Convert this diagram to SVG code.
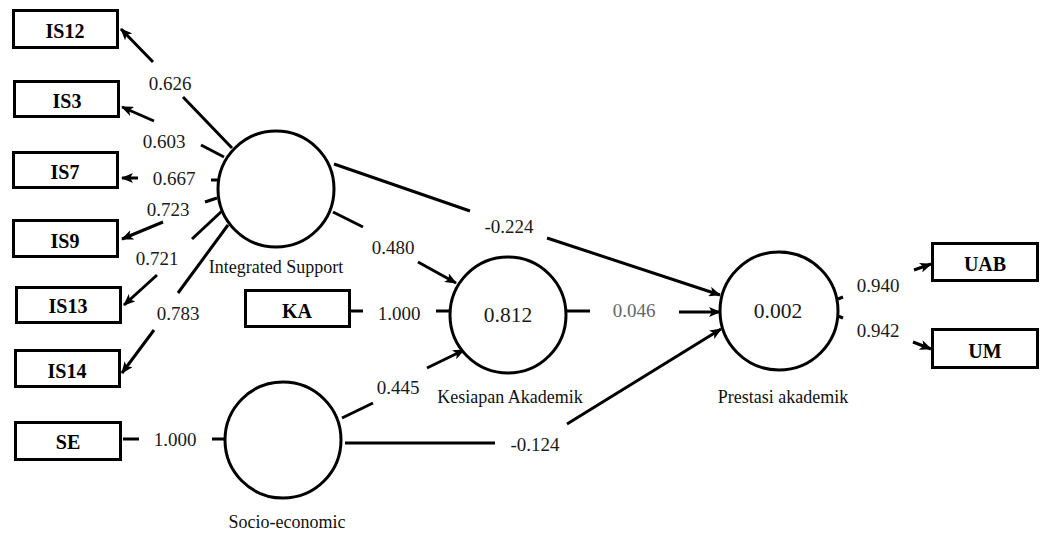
<svg xmlns="http://www.w3.org/2000/svg" width="1040" height="534" viewBox="0 0 1040 534">
<style>
.box{fill:#fff;stroke:#000;stroke-width:3}
.lat{fill:#fff;stroke:#000;stroke-width:3}
text{font-family:'Liberation Serif','Times New Roman',Times,'DejaVu Serif',serif}
.bl{font-weight:bold;font-size:20px;fill:#000;text-anchor:middle}
.ln{font-size:18px;fill:#111;text-anchor:middle}
.val{font-size:19px;fill:#1a1a1a;text-anchor:middle}
.r2{font-size:21.5px;fill:#1a1a1a;text-anchor:middle}
.g{fill:#666}
.c{fill:none;stroke:#000;stroke-width:3}
.a{marker-end:url(#ah)}
</style>
<defs>
<marker id="ah" viewBox="0 0 12 10" refX="11" refY="5" markerWidth="12" markerHeight="10" markerUnits="userSpaceOnUse" orient="auto">
<path d="M0,0 L12,5 L0,10 L3,5 z" fill="#000"/>
</marker>
</defs>
<rect width="1040" height="534" fill="#fff"/>

<g id="connectors">
<path class="c a" d="M232,148 L183,97 M153,62 L121,29"/>
<path class="c a" d="M224,157 L201,145 M154,121 L122,107"/>
<path class="c a" d="M218,180 L211,180 M138,178 L122,178"/>
<path class="c a" d="M217,198 L205,202 M163,222 L122,239"/>
<path class="c a" d="M222,211 L192,239 M157,275 L124,305"/>
<path class="c a" d="M228,225 L178,293 M154,330 L122,373"/>
<path class="c" d="M123,439 L139,439 M212,439 L226,439"/>
<path class="c" d="M351,311 L363,311 M436,311 L450,311"/>
<path class="c a" d="M333,212 L363,227 M418,262 L456,283"/>
<path class="c a" d="M334,164 L470,211 M547,238 L720,295"/>
<path class="c a" d="M342,418 L373,403 M427,368 L464,350"/>
<path class="c a" d="M345,443 L495,443 M567,424 L721,329"/>
<path class="c a" d="M567,311 L590,311 M679,312 L720,312"/>
<path class="c a" d="M838,299 L843,297 M914,270 L931,264"/>
<path class="c a" d="M838,316 L843,318 M913,342 L931,349"/>
</g>

<g id="IS12"><rect class="box" x="13.5" y="10.5" width="104" height="37"/><text class="bl" x="65" y="38">IS12</text></g>
<g id="IS3"><rect class="box" x="14.5" y="81.5" width="104" height="35"/><text class="bl" x="67" y="108">IS3</text></g>
<g id="IS7"><rect class="box" x="13.5" y="152.5" width="104" height="35"/><text class="bl" x="65" y="179">IS7</text></g>
<g id="IS9"><rect class="box" x="13.5" y="220.5" width="104" height="36"/><text class="bl" x="65" y="248">IS9</text></g>
<g id="IS13"><rect class="box" x="16.5" y="287.5" width="104" height="35"/><text class="bl" x="68" y="313">IS13</text></g>
<g id="IS14"><rect class="box" x="15.5" y="350.5" width="104" height="36"/><text class="bl" x="67" y="378">IS14</text></g>
<g id="SE"><rect class="box" x="15.5" y="422.5" width="105" height="37"/><text class="bl" x="68" y="449">SE</text></g>
<g id="KA"><rect class="box" x="245.5" y="290.5" width="104" height="36"/><text class="bl" x="297" y="318">KA</text></g>
<g id="UAB"><rect class="box" x="932.5" y="243.5" width="105" height="37"/><text class="bl" x="985" y="271">UAB</text></g>
<g id="UM"><rect class="box" x="932.5" y="329.5" width="105" height="38"/><text class="bl" x="985" y="358">UM</text></g>

<g id="IntegratedSupport"><circle class="lat" cx="276" cy="189" r="58"/><text class="ln" x="276" y="273">Integrated Support</text></g>
<g id="KesiapanAkademik"><circle class="lat" cx="508" cy="315" r="58"/><text class="r2" x="508" y="322">0.812</text><text class="ln" x="510" y="403">Kesiapan Akademik</text></g>
<g id="PrestasiAkademik"><circle class="lat" cx="779" cy="311" r="59"/><text class="r2" x="778" y="318">0.002</text><text class="ln" x="783" y="403">Prestasi akademik</text></g>
<g id="SocioEconomic"><circle class="lat" cx="283" cy="440" r="58"/><text class="ln" x="287" y="528">Socio-economic</text></g>

<g id="labels">
<text class="val" x="170" y="89.5">0.626</text>
<text class="val" x="164" y="147.5">0.603</text>
<text class="val" x="174" y="184.5">0.667</text>
<text class="val" x="168" y="216">0.723</text>
<text class="val" x="157" y="264.5">0.721</text>
<text class="val" x="178" y="319.5">0.783</text>
<text class="val" x="175" y="445.5">1.000</text>
<text class="val" x="399" y="319.5">1.000</text>
<text class="val" x="393" y="254">0.480</text>
<text class="val" x="509" y="232.5">-0.224</text>
<text class="val" x="398" y="393.5">0.445</text>
<text class="val" x="535" y="451">-0.124</text>
<text class="val g" x="634" y="317">0.046</text>
<text class="val" x="878" y="291.5">0.940</text>
<text class="val" x="878" y="336.5">0.942</text>
</g>
</svg>
